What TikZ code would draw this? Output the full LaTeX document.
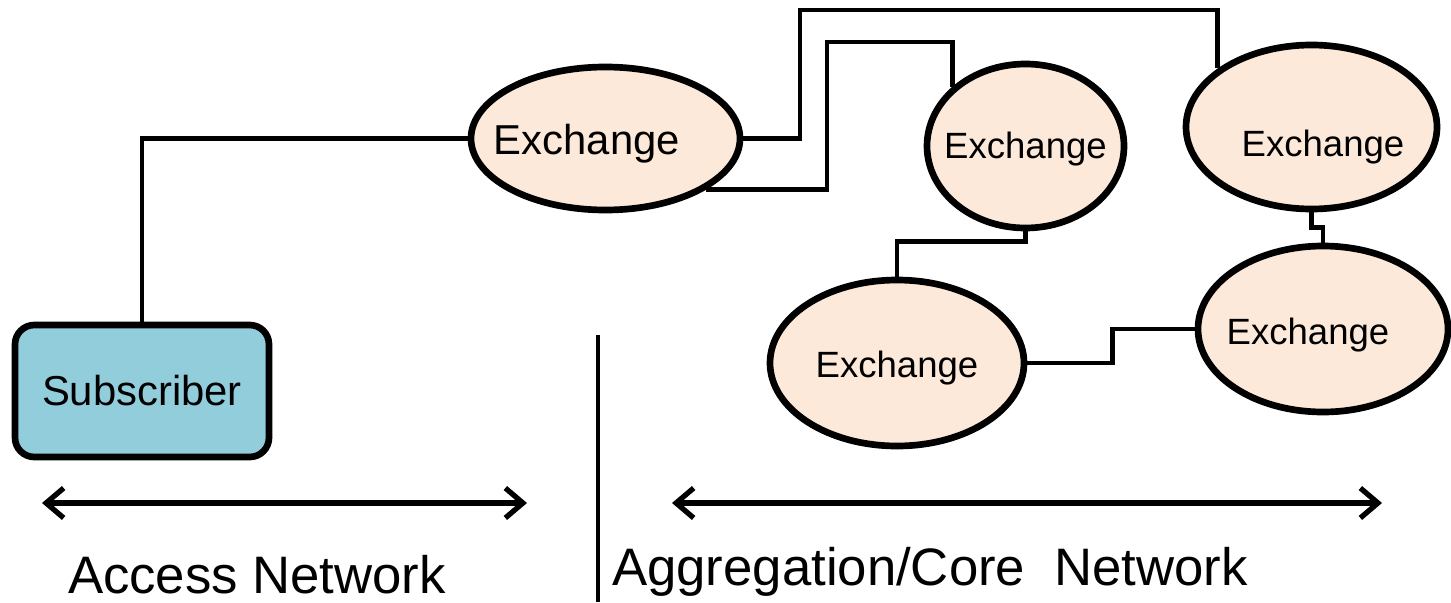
\documentclass[tikz,border=0pt]{standalone}
\usepackage{fontspec}
\setmainfont{Liberation Sans}
\usepackage{xcolor}
\usetikzlibrary{shapes.geometric, arrows.meta, positioning, calc}

\definecolor{exchfill}{HTML}{FDE9D9}
\definecolor{subfill}{HTML}{92CDDC}

% text set off the centre of its ellipse: {right}{down}{text}
\newcommand{\exchlabel}[3]{\raisebox{\dimexpr-0.26em-#2\relax}[0pt][0pt]{\makebox[0pt]{\hspace*{#1}#3\hspace*{-#1}}}}

\begin{document}
\begin{tikzpicture}[
    % Node styles
    exchbox/.style={draw, ellipse, fill=exchfill, inner sep=0pt, line width=3.8pt, font=\fontsize{20.8}{25}\selectfont},
    bigexch/.style={exchbox, font=\fontsize{23.8}{28}\selectfont},
    subbox/.style={draw, rounded corners=11pt, fill=subfill, inner sep=0pt, line width=3.8pt, minimum width=5.08cm, minimum height=2.64cm, font=\fontsize{23.8}{28}\selectfont},
    caption/.style={anchor=base, inner sep=0pt, font=\fontsize{30}{36}\selectfont},
    link/.style={line width=2.7pt, line join=miter},
    spanarrow/.style={{Straight Barb[length=10pt, width=17pt]}-{Straight Barb[length=10pt, width=17pt]}, line width=3pt}
]
\useasboundingbox (0,0) rectangle (29.02,-12.04);

% ========== NODES ==========
\node[subbox] (sub) at (2.84, -7.82) {Subscriber};
\node[bigexch, minimum width=5.38cm, minimum height=2.86cm] (ex1) at (12.11, -2.77) {\exchlabel{-0.37cm}{0.1cm}{Exchange}};
\node[exchbox, minimum width=3.94cm, minimum height=3.28cm] (ex2) at (20.51, -2.92) {\exchlabel{0cm}{0.05cm}{Exchange}};
\node[exchbox, minimum width=5.02cm, minimum height=3.28cm] (ex3) at (26.23, -2.54) {\exchlabel{0.23cm}{0.4cm}{Exchange}};
\node[exchbox, minimum width=5.0cm, minimum height=3.32cm] (ex4) at (26.46, -6.58) {\exchlabel{-0.3cm}{0.12cm}{Exchange}};
\node[exchbox, minimum width=5.08cm, minimum height=3.32cm] (ex5) at (17.94, -7.26) {\exchlabel{0cm}{0.1cm}{Exchange}};

% ========== CONNECTORS ==========
\draw[link] (sub.north) |- (ex1.west);
\draw[link] (ex1.east) -| (16.0, -0.2) -| (ex3.148);
\draw[link] (ex1.-27) -| (16.54, -0.84) -| (ex2.141);
\draw[link] (ex2.south) -- ++(0,-0.2) -| (ex5.north);
\draw[link] (ex5.east) -- ++(1.7,0) |- (ex4.west);
\draw[link] (ex3.south) -- ++(0,-0.3) -| (ex4.north);

% ========== NETWORK SPANS ==========
\coordinate (divtop) at (11.96, -6.7);
\coordinate (divbot) at (11.96, -12.04);
\draw[line width=2.6pt] (divtop) -- (divbot);

\coordinate (accl) at (0.84, -10.06);
\coordinate (accr) at (10.54, -10.06);
\coordinate (corel) at (13.44, -10.06);
\coordinate (corer) at (27.64, -10.06);
\draw[spanarrow] (accl) -- (accr);
\draw[spanarrow] (corel) -- (corer);

\node[caption] (acclabel) at (5.14, -11.86) {Access Network};
\node[caption] (corelabel) at (18.6, -11.7) {Aggregation/Core~~Network};

\end{tikzpicture}
\end{document}
